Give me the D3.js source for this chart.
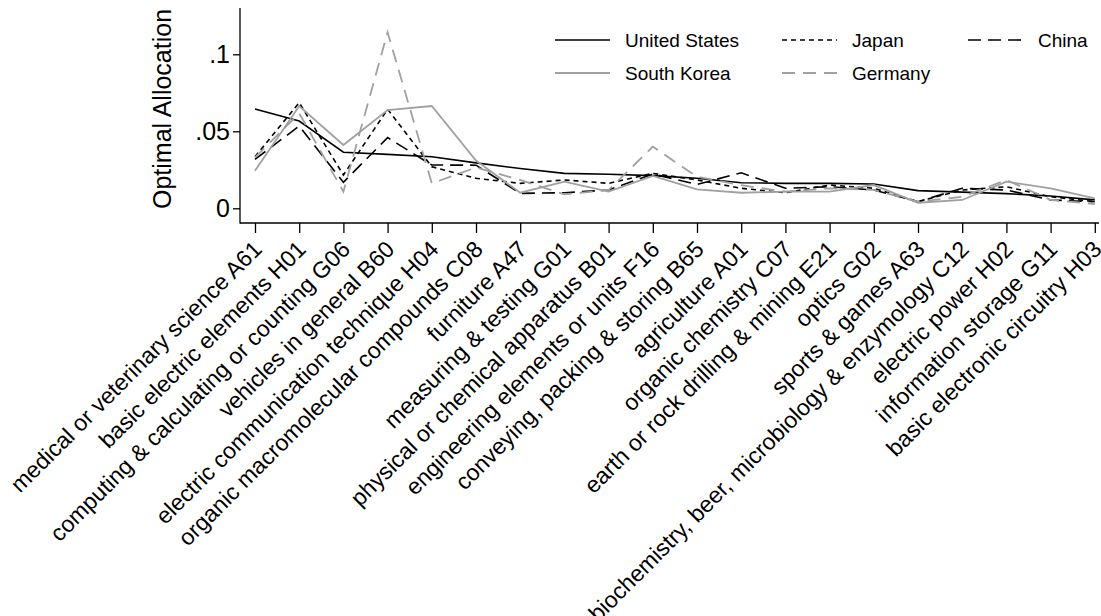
<!DOCTYPE html>
<html>
<head>
<meta charset="utf-8">
<script src="https://cdn.jsdelivr.net/npm/d3@7"></script>
<style>
  html, body { margin: 0; padding: 0; background: #fff; }
  svg { display: block; font-family: "Liberation Sans", Arial, Helvetica, sans-serif; }
</style>
</head>
<body>
<svg id="chart" width="1101" height="616"></svg>
<script>
const categories = [
  "medical or veterinary science A61",
  "basic electric elements H01",
  "computing & calculating or counting G06",
  "vehicles in general B60",
  "electric communication technique H04",
  "organic macromolecular compounds C08",
  "furniture A47",
  "measuring & testing G01",
  "physical or chemical apparatus B01",
  "engineering elements or units F16",
  "conveying, packing & storing B65",
  "agriculture A01",
  "organic chemistry C07",
  "earth or rock drilling & mining E21",
  "optics G02",
  "sports & games A63",
  "biochemistry, beer, microbiology & enzymology C12",
  "electric power H02",
  "information storage G11",
  "basic electronic circuitry H03"
];

const unitedStates = [0.0645, 0.0567, 0.0364, 0.0350, 0.0335, 0.0295, 0.0258, 0.0227, 0.0221, 0.0212, 0.0195, 0.0166, 0.0162, 0.0162, 0.0158, 0.0115, 0.0105, 0.0095, 0.0080, 0.0055];
const japan        = [0.0335, 0.0686, 0.0216, 0.0643, 0.0270, 0.0195, 0.0162, 0.0184, 0.0162, 0.0227, 0.0184, 0.0130, 0.0101, 0.0151, 0.0130, 0.0043, 0.0119, 0.0140, 0.0075, 0.0043];
const china        = [0.0318, 0.0534, 0.0169, 0.0459, 0.0281, 0.0280, 0.0097, 0.0101, 0.0119, 0.0223, 0.0155, 0.0231, 0.0130, 0.0140, 0.0119, 0.0043, 0.0130, 0.0119, 0.0054, 0.0043];
const southKorea   = [0.0244, 0.0664, 0.0411, 0.0638, 0.0664, 0.0310, 0.0101, 0.0173, 0.0108, 0.0210, 0.0123, 0.0101, 0.0108, 0.0108, 0.0151, 0.0036, 0.0054, 0.0173, 0.0130, 0.0065];
const germany      = [0.0330, 0.0617, 0.0108, 0.1143, 0.0162, 0.0265, 0.0184, 0.0091, 0.0119, 0.0400, 0.0205, 0.0150, 0.0108, 0.0130, 0.0119, 0.0043, 0.0075, 0.0184, 0.0054, 0.0028];

const yTicks = [0, 0.05, 0.1];
const yTickLabels = ["0", ".05", ".1"];

const seriesNames = ["United States", "Japan", "China", "South Korea", "Germany"];
const seriesValues = [unitedStates, japan, china, southKorea, germany];
const seriesStyle = [
  { color: "#000000", dash: null,   width: 1.6 },
  { color: "#000000", dash: "5,4",  width: 1.6 },
  { color: "#000000", dash: "13,7", width: 1.6 },
  { color: "#a0a0a0", dash: null,   width: 1.8 },
  { color: "#a0a0a0", dash: "13,8", width: 1.8 }
];

const svg = d3.select("#chart");

const axisLeftX = 240, axisBottomY = 223, axisTopY = 8, axisRightX = 1099;

const x = d3.scalePoint()
  .domain(categories)
  .range([255, 1094.8]);

const y = d3.scaleLinear()
  .domain([0, 0.1])
  .range([208.3, 54.3]);

// axes lines
svg.append("line")
  .attr("x1", axisLeftX).attr("x2", axisLeftX)
  .attr("y1", axisTopY).attr("y2", axisBottomY + 0.5)
  .attr("stroke", "#000").attr("stroke-width", 1.3);
svg.append("line")
  .attr("x1", axisLeftX).attr("x2", axisRightX)
  .attr("y1", axisBottomY).attr("y2", axisBottomY)
  .attr("stroke", "#000").attr("stroke-width", 1.3);

// y axis
const yAxis = d3.axisLeft(y)
  .tickValues(yTicks)
  .tickFormat((d, i) => yTickLabels[i])
  .tickSize(7)
  .tickPadding(3);
const gy = svg.append("g")
  .attr("transform", `translate(${axisLeftX},0)`)
  .call(yAxis);
gy.select(".domain").remove();
gy.selectAll(".tick line").attr("stroke", "#000").attr("stroke-width", 1.3);
gy.selectAll(".tick text")
  .attr("font-size", 25)
  .attr("font-family", "Liberation Sans, Arial, sans-serif")
  .attr("fill", "#000");

// x axis
const xAxis = d3.axisBottom(x).tickSize(10).tickPadding(4);
const gx = svg.append("g")
  .attr("transform", `translate(0,${axisBottomY})`)
  .call(xAxis);
gx.select(".domain").remove();
gx.selectAll(".tick line").attr("stroke", "#000").attr("stroke-width", 1.3);
gx.selectAll(".tick text")
  .attr("font-size", 23)
  .attr("font-family", "Liberation Sans, Arial, sans-serif")
  .attr("fill", "#000")
  .attr("text-anchor", "end")
  .attr("dy", "0.35em")
  .attr("y", 0)
  .attr("transform", "translate(2,22) rotate(-45)");

// y title
svg.append("text")
  .attr("transform", "translate(171,109) rotate(-90)")
  .attr("text-anchor", "middle")
  .attr("font-size", 25)
  .attr("fill", "#000")
  .text("Optimal Allocation");

// lines
const line = d3.line()
  .x((d, i) => x(categories[i]))
  .y(d => y(d));

seriesValues.forEach((vals, k) => {
  const st = seriesStyle[k];
  svg.append("path")
    .datum(vals)
    .attr("d", line)
    .attr("fill", "none")
    .attr("stroke", st.color)
    .attr("stroke-width", st.width)
    .attr("stroke-dasharray", st.dash)
    .attr("stroke-linejoin", "miter");
});

// legend
const legendCols = [555, 782, 968];
const legendRows = [40, 73];
const sampleLen = 55, textGap = 15;
seriesNames.forEach((name, k) => {
  const col = k % 3, row = Math.floor(k / 3);
  const lx = legendCols[col], ly = legendRows[row];
  const st = seriesStyle[k];
  svg.append("line")
    .attr("x1", lx).attr("x2", lx + sampleLen)
    .attr("y1", ly).attr("y2", ly)
    .attr("stroke", st.color)
    .attr("stroke-width", st.width)
    .attr("stroke-dasharray", st.dash);
  svg.append("text")
    .attr("x", lx + sampleLen + textGap)
    .attr("y", ly)
    .attr("dy", "0.35em")
    .attr("font-size", 19)
    .attr("fill", "#000")
    .text(name);
});
</script>
</body>
</html>
